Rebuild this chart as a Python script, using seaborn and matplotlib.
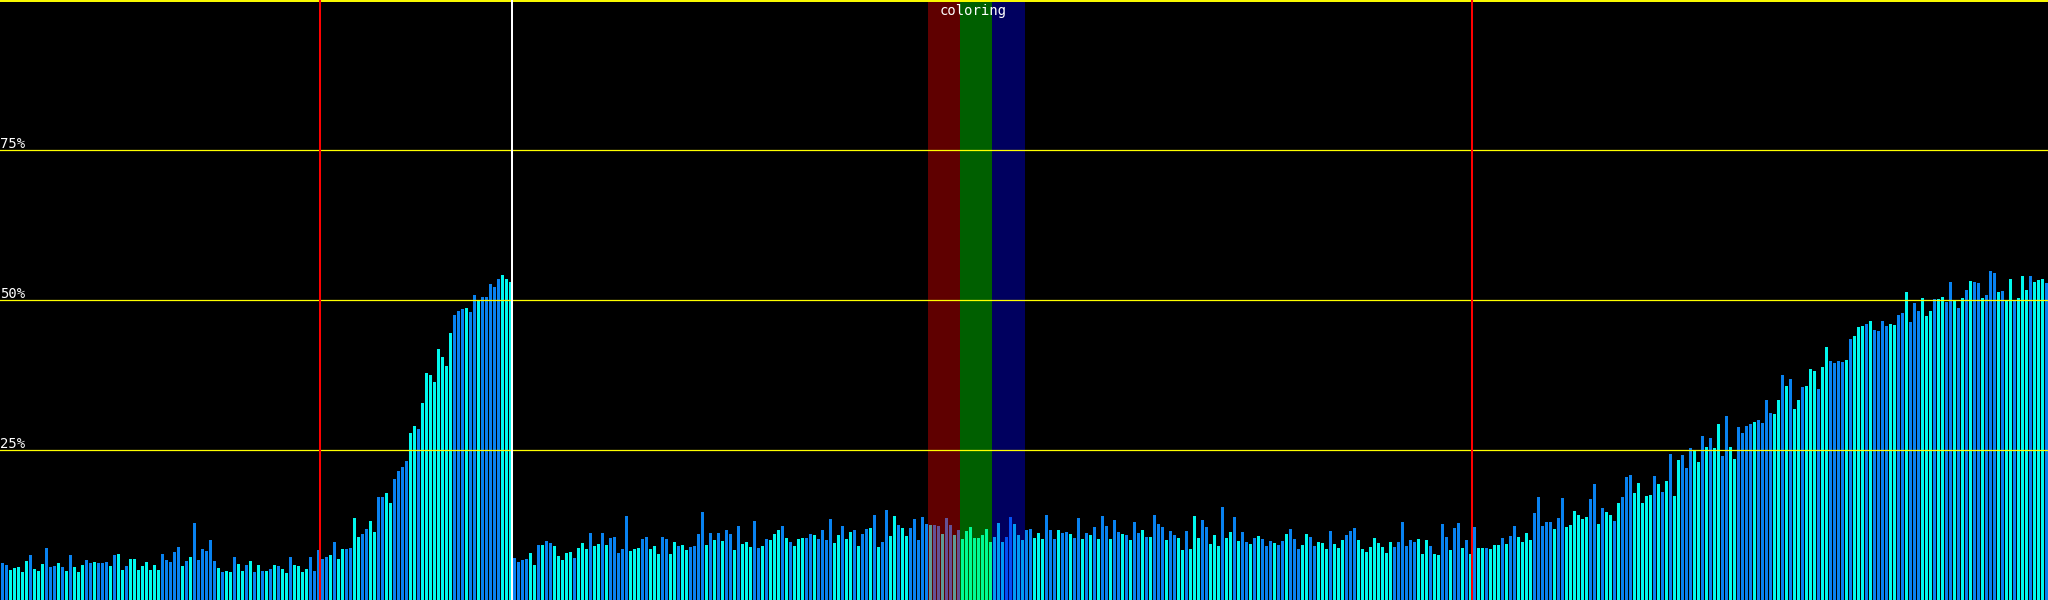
import matplotlib
matplotlib.use("Agg")
import matplotlib.pyplot as plt
import pandas as pd
import seaborn as sns

# --- data: percent per bucket, grouped by stretch ---
pct_start = [
    6.2, 5.8, 5.0, 5.3, 5.5, 4.7, 6.5, 7.5, 5.2, 4.8,
    6.0, 8.7, 5.5, 5.7, 6.2, 5.5, 4.8, 7.5, 5.5, 4.7,
    5.8, 6.7, 6.2, 6.3, 6.2, 6.2, 6.3, 5.7, 7.5, 7.7,
    5.0, 5.7, 6.8, 6.8, 5.0, 5.7, 6.3, 5.0, 5.8, 5.0,
    7.7, 6.7, 6.3, 8.0, 8.8, 5.7, 6.5, 7.2, 12.8, 6.7,
    8.5, 8.2, 10.0, 6.5, 5.3, 4.7, 4.8, 4.7, 7.2, 6.0,
    4.8, 5.8, 6.5, 4.7, 5.8, 4.8, 4.8, 5.2, 5.8, 5.7,
    5.2, 4.5, 7.2, 5.8, 5.7, 4.7, 5.2, 7.2, 4.8, 8.3,
    6.8, 7.2, 7.5, 9.7, 6.8, 8.5,
]
pct_ramp = [
    8.5, 8.7, 13.7, 10.5, 11.0, 11.8, 13.2, 11.3, 17.2, 17.2,
    17.8, 16.2, 20.2, 21.5, 22.2, 23.2, 27.8, 29.0, 28.5, 32.8,
    37.8, 37.5, 36.3, 41.8, 40.5, 39.0, 44.5, 47.5, 48.2, 48.5,
    48.7, 48.0, 50.8, 50.0, 50.5, 50.5, 52.7, 52.2, 53.5, 54.2,
    53.5, 53.0,
    7.0, 6.3, 6.7, 6.8, 7.8, 5.8, 9.2, 9.2, 9.8, 9.5,
    9.0, 7.3, 6.7, 7.8, 8.0, 7.0, 8.7, 9.5, 8.5, 11.2,
    9.0, 9.3, 11.2, 9.2, 10.3, 10.5, 7.8, 8.5, 14.0, 8.2,
    8.5, 8.7, 10.2, 10.5, 8.5, 9.0, 7.7, 10.5, 10.2, 7.7,
    9.7, 9.0, 9.2, 8.3,
]
pct_mid = [
    8.8, 9.0, 11.0, 14.7, 9.2, 11.2, 10.0, 11.2, 9.8, 11.7,
    11.0, 8.3, 12.3, 9.3, 9.7, 8.8, 13.2, 8.7, 9.0, 10.2,
    10.0, 11.0, 11.7, 12.3, 10.3, 9.7, 9.0, 10.2, 10.3, 10.3,
    11.0, 10.8, 10.2, 11.7, 10.0, 13.5, 9.5, 10.8, 12.3, 10.2,
    11.3, 11.7, 9.0, 11.0, 11.8, 12.0, 14.2, 8.8, 9.7, 15.0,
    10.7, 14.0, 12.5, 12.0, 10.7, 12.0, 13.5, 10.0, 13.8, 12.7,
    12.5, 12.5, 12.3, 11.0, 13.7, 12.5, 10.8, 11.7, 10.2, 11.5,
    12.2, 10.3, 10.3, 10.8, 11.8, 9.7, 10.5, 12.8, 9.7, 10.5,
    13.8, 12.7, 10.8, 10.0, 11.7, 11.8, 10.3,
]
pct_flat = [
    11.2, 10.2, 14.2, 11.7, 10.2, 11.7, 11.2, 11.3, 11.0, 10.3,
    13.7, 10.2, 11.2, 10.8, 12.2, 10.2, 14.0, 12.3, 10.2, 13.3,
    11.3, 11.0, 10.8, 10.0, 13.0, 11.2, 11.7, 10.5, 10.5, 14.2,
    12.7, 12.2, 10.0, 11.5, 10.8, 10.3, 8.3, 11.5, 8.5, 14.0,
    10.3, 13.3, 12.2, 9.3, 10.8, 9.0, 15.5, 10.3, 11.3, 13.8,
    9.8, 11.3, 9.7, 9.3, 10.3, 10.7, 10.2, 9.0, 9.8, 9.5,
    9.2, 9.8, 11.0, 11.8, 10.2, 8.5, 9.2, 11.0, 10.5, 9.0,
    9.7, 9.5, 8.5, 11.5, 9.3, 8.7, 10.0, 10.8, 11.5, 12.0,
    10.0, 8.5, 8.0, 8.8, 10.3, 9.5,
]
pct_rise = [
    8.8, 7.8, 9.7, 8.8, 9.7, 13.0, 9.0, 10.0, 9.7, 10.2,
    7.7, 10.0, 9.0, 7.7, 7.5, 12.7, 10.5, 8.3, 12.0, 12.8,
    8.7, 10.0, 7.7, 12.2, 8.7, 8.7, 8.7, 8.5, 9.2, 9.2,
    10.3, 9.3, 10.7, 12.3, 10.5, 9.7, 11.2, 10.0, 14.5, 17.2,
    12.3, 13.0, 13.0, 11.8, 13.7, 17.0, 12.2, 12.5, 14.8, 14.2,
    13.5, 13.8, 16.8, 19.3, 12.7, 15.3, 14.7, 14.2, 13.2, 16.2,
    17.2, 20.5, 20.8, 17.8, 19.5, 16.2, 17.3, 17.5, 20.7, 19.3,
    18.0, 19.8, 24.3, 17.3, 23.3, 24.2, 22.0, 25.3, 25.0, 23.0,
    27.3, 25.5, 27.0, 25.3,
]
pct_end = [
    29.3, 24.0, 30.7, 25.5, 23.5, 28.8, 27.8, 29.0, 29.3, 29.7,
    30.0, 29.5, 33.3, 31.2, 31.0, 33.3, 37.5, 35.7, 36.8, 31.8,
    33.3, 35.5, 35.7, 38.5, 38.2, 35.2, 38.8, 42.2, 39.8, 39.5,
    39.8, 39.7, 40.0, 43.5, 44.0, 45.5, 45.7, 46.0, 46.5, 45.0,
    44.8, 46.5, 45.7, 46.0, 45.8, 47.5, 47.8, 51.3, 46.3, 49.5,
    48.2, 50.3, 47.3, 48.2, 50.2, 50.2, 50.5, 49.7, 53.0, 49.8,
    48.7, 50.3, 51.7, 53.2, 53.0, 52.8, 50.3, 50.8, 54.8, 54.5,
    51.3, 51.5, 50.0, 53.5, 49.8, 50.3, 54.0, 51.7, 54.0, 53.0,
    53.3, 53.5, 52.8,
]

# bar kind per bucket: b = blue, c = cyan
kind_start = "bbcccccbcc" "cbbbcbcbcc" "cbbcbbbcbc" "cbcccccccc" "bbbbbcbcbb" \
             "bbbbcbccbc" "cbcbcbcbcb" "ccbccccbbb" "bbcbcc"
kind_ramp = "bbccbbccbb" "ccbbbbccbc" "cccccccbbb" "cbbcbbbbbc" "ccbbbbccbc" \
            "bbcccccbcc" "cbccbcbbbb" "bcccbbcccb" "bccbcc"
kind_mid = "bbbbcbcbcb" "bcbcccbbcb" "cccbcbcccb" "bcbbbbccbc" "cbcbbcbcbb" \
           "ccbccbbbbb" "cbbcbbcbcc" "cccccccccb" "bcccbbc"
kind_flat = "ccbbbcbbcb" "bcbcbcbbcb" "bcbcbbcbcb" "bbcbbccbcc" "cbbcccbccb" \
            "cbbcbcbbbc" "bbcbbbccbb" "cccbcccbbb" "cccccc"
kind_rise = "cccbbbbbbc" "ccbccbbcbb" "cbcbccbccc" "bcbbccccbb" "bbbcbbcccc" \
            "ccbbcbccbc" "bbbcccccbc" "bcbccbbbcc" "bcbc"
kind_end = "cbbccbbbbc" "bbbbccbcbc" "cbcccbccbb" "bbcbcccbcb" "bbbccbbcbb" \
           "bcccbccbbc" "bcbcbbcbbb" "cbccbcccbc" "ccb"

grid_levels = [25, 50, 75]
grid_labels = ["25%", "50%", "75%"]
red_marks = [79.4, 367.3]
white_marks = [127.3]
bands = [(231.4, 239.4, "#ff0000"), (239.4, 247.4, "#00ff00"), (247.4, 255.6, "#0000ff")]
band_title = "coloring"
band_title_x = 242.6

BLUE = "#0882f0"
CYAN = "#00f8ee"

pct = pct_start + pct_ramp + pct_mid + pct_flat + pct_rise + pct_end
kind = list(kind_start + kind_ramp + kind_mid + kind_flat + kind_rise + kind_end)
df = pd.DataFrame({"bucket": range(len(pct)), "pct": pct, "kind": kind})

fig = plt.figure(figsize=(20.48, 6.0), dpi=100, facecolor="black")
ax = fig.add_axes([0, 0, 1, 1])
ax.set_facecolor("black")

sns.barplot(data=df, x="bucket", y="pct", hue="kind", palette={"b": BLUE, "c": CYAN},
            dodge=False, width=0.75, saturation=1, linewidth=0, legend=False, ax=ax, zorder=2)

ax.set_xlim(-0.625, len(pct) - 0.625)
ax.set_ylim(0, 100)
ax.axis("off")

for x0, x1, col in bands:
    ax.axvspan(x0, x1, color=col, alpha=0.376, lw=0, zorder=3)

for y in grid_levels:
    ax.axhline(y, color="#ffff00", lw=0.9, zorder=4)
ax.axhline(99.85, color="#ffff00", lw=1.4, zorder=4)

for x in red_marks:
    ax.axvline(x, color="#ff0000", lw=1.45, zorder=5)
for x in white_marks:
    ax.axvline(x, color="#ffffff", lw=1.45, zorder=5)

mono = ["DejaVu Sans Mono"]
for y, lab in zip(grid_levels, grid_labels):
    ax.text(0.0, y + 0.3, lab, transform=ax.get_yaxis_transform(), color="white",
            fontsize=10, family=mono, ha="left", va="baseline", zorder=6)

ax.text(band_title_x, 99.3, band_title, color="white",
        fontsize=10, family=mono, ha="center", va="top", zorder=6)

fig.savefig("out.png", dpi=100, facecolor="black")
